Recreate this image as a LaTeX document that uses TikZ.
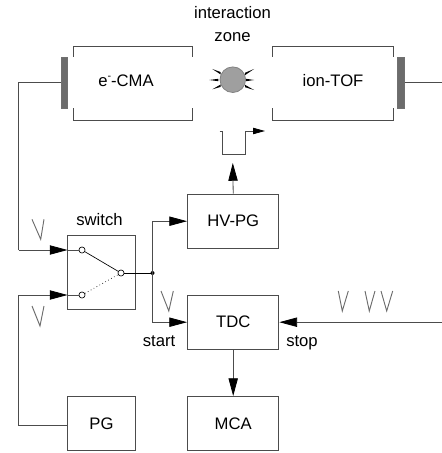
\documentclass[tikz,border=0pt]{standalone}
\usepackage{fontspec}
\setmainfont{Liberation Sans}
\usetikzlibrary{arrows.meta}
\definecolor{ln}{gray}{0.3}
\tikzset{
 x=0.75pt,y=-0.75pt,
 wire/.style={draw=ln,line width=0.6pt},
 flow/.style={wire,-{Triangle[length=13.3pt,width=7pt,fill=black,color=black]}},
 smallflow/.style={wire,-{Triangle[length=9pt,width=4.8pt,fill=black,color=black]}},
 blk/.style={draw=ln,line width=0.7pt,minimum width=68.5pt,minimum height=40.5pt,inner sep=0pt,font=\fontsize{12.5}{14}\selectfont},
 narrowblk/.style={blk,minimum width=51pt},
 lbl/.style={inner sep=0pt,font=\fontsize{12.5}{14}\selectfont},
 det/.style={draw=ln!80,fill=gray!85!black,line width=0.5pt,minimum width=4.9pt,minimum height=38.2pt,inner sep=0pt},
 contact/.style={circle,draw=black,fill=white,line width=0.5pt,minimum size=4.6pt,inner sep=0pt},
 pulse/.style={draw=gray!85!black,line width=0.7pt,line join=miter},
 ray/.style={fill=black,draw=none}
}
% left, bottom, right x; top y
\newcommand{\pulseat}[4]{\draw[pulse] (#1,#4) -- (#2,#4+20) -- (#3,#4);}
% tapered ray: from wide end (#1,#2) to tip (#3,#4)
\newcommand{\rayat}[4]{\fill[ray] ({#1},{#2-1.2}) -- ({#1},{#2+1.2}) -- (#3,#4) -- cycle;}
\begin{document}
\begin{tikzpicture}
\useasboundingbox (0,0) rectangle (442,453);
% analyzers
\draw[wire] (73.5,57) -- (73.5,46) -- (192.5,46) -- (192.5,57);
\draw[wire] (73.5,108) -- (73.5,120) -- (192.5,120) -- (192.5,108);
\draw[wire] (272.5,57) -- (272.5,46) -- (393,46) -- (393,57);
\draw[wire] (272.5,108) -- (272.5,120) -- (393,120) -- (393,108);
\node[lbl] (cma) at (126,81) {e\raisebox{0.45em}{\fontsize{8}{8}\selectfont -}-CMA};
\node[lbl] (tof) at (333,81) {ion-TOF};
\node[det] (dl) at (64.3,82.5) {};
\node[det] (dr) at (401,82.5) {};
\coordinate (rend) at (442,82.5);
\draw[wire] (dr) -- (rend);
% interaction zone
\node[lbl] (izone1) at (232.5,13) {interaction};
\node[lbl] (izone2) at (232.5,37) {zone};
\node[circle,draw=ln!70,fill=gray!75,line width=0.6pt,minimum size=19.2pt,inner sep=0pt] (zone) at (232.8,79.7) {};
\rayat{218.3}{80}{209.3}{80}
\rayat{220.7}{73.3}{212.3}{69}
\rayat{220.7}{85.7}{212.3}{89.3}
\rayat{246}{80}{254}{80}
\rayat{245}{74}{254}{69}
\rayat{245}{86}{254}{90}
% blocks
\node[narrowblk,minimum height=55.5pt] (sw) at (101.5,272.3) {};
\node[lbl,anchor=base] (swl) at (99.5,225) {switch};
\node[blk] (hv) at (233.2,221.2) {HV-PG};
\node[blk] (tdc) at (233.2,322.2) {TDC};
\node[blk] (mca) at (233.2,423.5) {MCA};
\node[narrowblk] (pg) at (101.5,423.5) {PG};
% switch internals
\node[contact] (c1) at (82,250) {};
\node[contact] (c2) at (82,295) {};
\node[contact] (c3) at (121,273) {};
\draw[line width=0.5pt] (c1) -- (c3);
\draw[line width=0.5pt,dotted] (c2) -- (c3);
% connectors
\coordinate (cornA) at (18.5,82.5);
\coordinate (cornB) at (18.5,250);
\coordinate (cornC) at (18.5,295);
\coordinate (cornD) at (18.5,425);
\coordinate (swin1) at (67.5,250);
\coordinate (swin2) at (67.5,295);
\coordinate (pgout) at (67.5,425);
\coordinate (j) at (152.5,273);
\draw[wire] (dl) -- (cornA) -- (cornB);
\draw[flow] (cornB) -- (swin1);
\draw[wire] (swin1) -- (c1);
\draw[wire] (pgout) -- (cornD) -- (cornC);
\draw[flow] (cornC) -- (swin2);
\draw[wire] (swin2) -- (c2);
\draw[line width=0.5pt] (c3) -- (j);
\fill (j) circle (2);
\draw[flow] (j) |- (hv.west);
\draw[flow] (j) |- (tdc.west);
\draw[flow] (tdc.south) -- (mca.north);
\coordinate (tdcin) at (442,322.2);
\draw[flow] (tdcin) -- (tdc.east);
\coordinate (pulsetip) at (232.8,163);
\draw[flow] (hv.north) -- (pulsetip);
\coordinate (p0) at (219.5,131);
\coordinate (p1) at (265,131);
\draw[smallflow] (p0) -- (222,131) -- (222,154) -- (245,154) -- (245,131) -- (p1);
% labels
\node[lbl,anchor=base] (startl) at (159,346.7) {start};
\node[lbl,anchor=base] (stopl) at (302,346.7) {stop};
% pulses
\pulseat{32}{40.7}{44}{219.3}
\pulseat{32}{40}{44}{306}
\pulseat{161}{168.8}{173.3}{291}
\pulseat{338.3}{342.3}{348.3}{291}
\pulseat{365}{369.3}{375}{291}
\pulseat{381}{386.7}{392.7}{291}
\end{tikzpicture}
\end{document}
